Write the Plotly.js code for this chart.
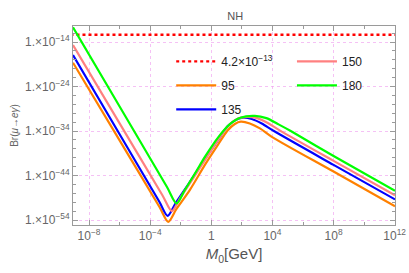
<!DOCTYPE html>
<html><head><meta charset="utf-8">
<script src="https://cdn.plot.ly/plotly-3.0.1.min.js"></script>
<style>html,body{margin:0;padding:0;background:#fff}#chart{width:409px;height:273px}</style>
</head><body><div id="chart"></div>
<script>
// exponents (log10)
const logM0_95  = [-9.05, -6.0, -3.4, -2.82, -2.3, -1.4, -0.42, 0.43, 1.08, 1.54, 1.93, 2.52, 3.18, 3.96, 8.0, 12.02];
const logBr_95  = [-18.65, -36.1, -51.0, -54.38, -51.6, -47.2, -41.6, -37.1, -33.8, -32.4, -31.9, -32.3, -33.4, -35.3, -43.1, -50.9];
const logM0_135 = [-9.05, -6.0, -3.4, -2.86, -2.35, -1.45, -0.45, 0.4, 1.05, 1.55, 2.07, 2.65, 3.3, 4.1, 8.0, 12.02];
const logBr_135 = [-16.92, -34.71, -49.88, -53.03, -50.28, -45.7, -40.4, -36.2, -33.0, -31.6, -31.0, -31.3, -32.3, -34.0, -41.6, -49.35];
const logM0_150 = [-9.05, -6.0, -3.2, -2.58, -2.05, -1.2, -0.3, 0.5, 1.15, 1.75, 2.39, 3.0, 3.7, 4.5, 8.0, 12.02];
const logBr_150 = [-14.67, -32.26, -48.41, -51.98, -49.12, -44.67, -39.9, -35.7, -32.7, -31.2, -30.8, -31.1, -32.2, -33.9, -40.7, -48.4];
const logM0_180 = [-9.05, -6.0, -2.9, -2.27, -1.75, -1.0, -0.42, 0.5, 1.2, 1.9, 2.85, 3.6, 4.4, 5.2, 8.0, 12.02];
const logBr_180 = [-10.7, -28.49, -46.57, -50.25, -47.34, -43.14, -39.8, -35.2, -32.5, -31.0, -30.6, -31.1, -32.5, -34.0, -39.6, -47.4];
const limitBr = 4.2e-13;
const limitM0 = [1e-10, 1e13];
const xTickVals = [1e-8, 1e-4, 1, 1e4, 1e8, 1e12];
const xTickText = ['10<sup>−8</sup>', '10<sup>−4</sup>', '1', '10<sup>4</sup>', '10<sup>8</sup>', '10<sup>12</sup>'];
const yTickVals = [1e-54, 1e-44, 1e-34, 1e-24, 1e-14];
const yTickText = ['1.×10<sup>−54</sup>', '1.×10<sup>−44</sup>', '1.×10<sup>−34</sup>', '1.×10<sup>−24</sup>', '1.×10<sup>−14</sup>'];

const p10 = a => a.map(v => Math.pow(10, v));
const lineTrace = (lx, ly, name, color, legend, group) => ({
  x: p10(lx), y: p10(ly), name: name, mode: 'lines', type: 'scatter',
  line: {color: color, width: 2.2, shape: 'spline', smoothing: 0.8},
  legend: legend, legendgroup: group
});

const traces = [
  {x: limitM0, y: [limitBr, limitBr], name: '4.2×10<sup>−13</sup>', mode: 'lines', type: 'scatter',
   line: {color: '#ff0000', width: 2.4, dash: '3px,3px'}, legend: 'legend', legendgroup: 'a'},
  lineTrace(logM0_95, logBr_95, '95', '#ff8000', 'legend', 'b'),
  lineTrace(logM0_135, logBr_135, '135', '#0000ff', 'legend', 'c'),
  lineTrace(logM0_150, logBr_150, '150', '#ff8080', 'legend2', 'd'),
  lineTrace(logM0_180, logBr_180, '180', '#00ff00', 'legend2', 'e')
];

const axisCommon = {
  type: 'log', showline: true, linecolor: '#9a9a9a', linewidth: 1, mirror: 'ticks',
  ticks: 'inside', ticklen: 5, tickcolor: '#9a9a9a', tickwidth: 1,
  showgrid: true, gridcolor: 'rgba(240,160,240,0.65)', griddash: 'dot', gridwidth: 1,
  zeroline: false, tickfont: {family: 'Liberation Sans, Arial, sans-serif', size: 12, color: '#666'}
};
const legendCommon = {
  bgcolor: 'rgba(0,0,0,0)', borderwidth: 0, tracegroupgap: 5, traceorder: 'grouped',
  font: {family: 'Liberation Sans, Arial, sans-serif', size: 12, color: '#222'},
  xanchor: 'left', yanchor: 'top', itemwidth: 40
};

const layout = {
  width: 409, height: 273,
  margin: {l: 73, r: 14, t: 26, b: 48},
  paper_bgcolor: '#fff', plot_bgcolor: '#fff',
  showlegend: true,
  title: {text: 'NH', x: 0.575, xanchor: 'center', y: 0.94, yanchor: 'middle',
          font: {family: 'Liberation Sans, Arial, sans-serif', size: 11, color: '#555'}},
  xaxis: Object.assign({}, axisCommon, {
    range: [-9.05, 12.02], tickmode: 'array', tickvals: xTickVals, ticktext: xTickText,
    minor: {tickmode: 'linear', tick0: -8, dtick: 2, ticklen: 3, ticks: 'inside', tickcolor: '#9a9a9a', showgrid: false},
    title: {text: '<i>M</i><sub>0</sub>[GeV]', standoff: 6,
            font: {family: 'Liberation Sans, Arial, sans-serif', size: 15, color: '#555'}}
  }),
  yaxis: Object.assign({}, axisCommon, {
    range: [-55.1, -10.4], tickmode: 'array', tickvals: yTickVals, ticktext: yTickText,
    minor: {tickmode: 'linear', tick0: -54, dtick: 2, ticklen: 3, ticks: 'inside', tickcolor: '#9a9a9a', showgrid: false},
    title: {text: 'Br(<i>μ</i>→<i>eγ</i>)', standoff: 4,
            font: {family: 'Liberation Sans, Arial, sans-serif', size: 10, color: '#666'}}
  }),
  legend: Object.assign({}, legendCommon, {x: 0.305, y: 0.895}),
  legend2: Object.assign({}, legendCommon, {x: 0.68, y: 0.895})
};

Plotly.newPlot('chart', traces, layout, {displayModeBar: false, staticPlot: true});
</script>
</body></html>
